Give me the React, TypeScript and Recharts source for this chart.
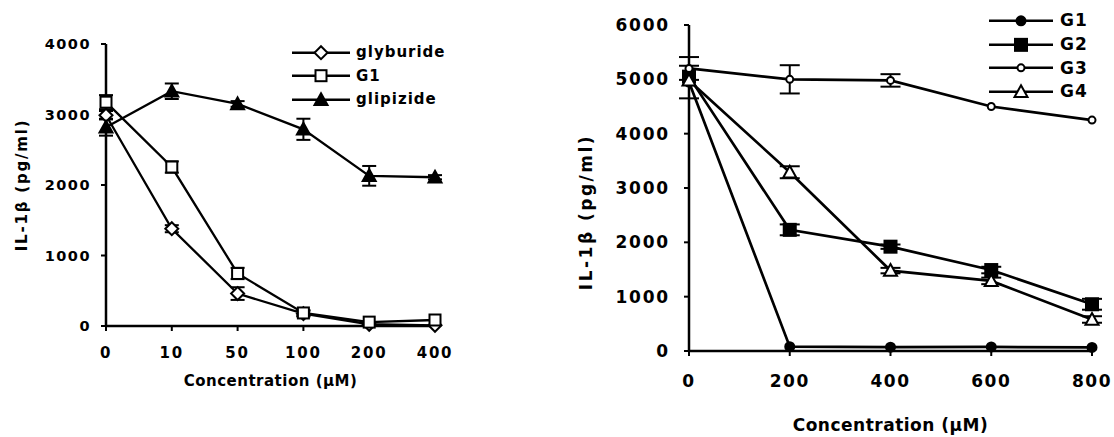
import { LineChart, Line, XAxis, YAxis, ErrorBar, Legend, Label } from "recharts";

const FONT = '"DejaVu Sans", Verdana, sans-serif';

// left panel: glyburide / G1 / glipizide
const leftConc = ["0", "10", "50", "100", "200", "400"];
const leftTicksY = [0, 1000, 2000, 3000, 4000];
const glyburide = [2990, 1380, 460, 175, 25, 10];
const glyburideSd = [60, 50, 90, 40, 0, 0];
const g1Left = [3175, 2255, 745, 185, 55, 85];
const g1LeftSd = [100, 80, 80, 40, 0, 0];
const glipizide = [2820, 3330, 3150, 2790, 2130, 2110];
const glipizideSd = [120, 110, 40, 150, 140, 30];

// right panel: G1..G4
const rightConc = [0, 200, 400, 600, 800];
const rightTicksY = [0, 1000, 2000, 3000, 4000, 5000, 6000];
const g1 = [4950, 80, 70, 75, 65];
const g1Sd = [300, 0, 0, 0, 0];
const g2 = [5050, 2230, 1920, 1490, 860];
const g2Sd = [0, 100, 40, 60, 100];
const g3 = [5200, 5000, 4980, 4500, 4250];
const g3Sd = [210, 260, 115, 0, 0];
const g4 = [4980, 3290, 1480, 1290, 580];
const g4Sd = [0, 110, 50, 60, 60];

const leftData = leftConc.map((c, i) => ({
  conc: c,
  glyburide: glyburide[i], glyburideSd: glyburideSd[i],
  g1: g1Left[i], g1Sd: g1LeftSd[i],
  glipizide: glipizide[i], glipizideSd: glipizideSd[i],
}));

const rightData = rightConc.map((c, i) => ({
  conc: c,
  g1: g1[i], g1Sd: g1Sd[i],
  g2: g2[i], g2Sd: g2Sd[i],
  g3: g3[i], g3Sd: g3Sd[i],
  g4: g4[i], g4Sd: g4Sd[i],
}));

type Shape = "diamond" | "square" | "triangle" | "circle";
interface Series { key: string; name: string; shape: Shape; filled: boolean; size: number }

const leftSeries: Series[] = [
  { key: "glyburide", name: "glyburide", shape: "diamond", filled: false, size: 13 },
  { key: "g1", name: "G1", shape: "square", filled: false, size: 11 },
  { key: "glipizide", name: "glipizide", shape: "triangle", filled: true, size: 13 },
];

const rightSeries: Series[] = [
  { key: "g1", name: "G1", shape: "circle", filled: true, size: 9 },
  { key: "g2", name: "G2", shape: "square", filled: true, size: 12 },
  { key: "g3", name: "G3", shape: "circle", filled: false, size: 9 },
  { key: "g4", name: "G4", shape: "triangle", filled: false, size: 13 },
];

function Marker({ cx, cy, shape, size, filled }: { cx: number; cy: number; shape: Shape; size: number; filled: boolean }) {
  const fill = filled ? "#000" : "#fff";
  const h = size / 2;
  if (shape === "diamond") {
    return <polygon points={`${cx},${cy - h} ${cx + h},${cy} ${cx},${cy + h} ${cx - h},${cy}`} fill={fill} stroke="#000" strokeWidth={2} />;
  }
  if (shape === "square") {
    return <rect x={cx - h} y={cy - h} width={size} height={size} fill={fill} stroke="#000" strokeWidth={2} />;
  }
  if (shape === "triangle") {
    return <polygon points={`${cx},${cy - h} ${cx + h},${cy + h * 0.8} ${cx - h},${cy + h * 0.8}`} fill={fill} stroke="#000" strokeWidth={2} />;
  }
  return <circle cx={cx} cy={cy} r={filled ? h : h - 1} fill={fill} stroke="#000" strokeWidth={2} />;
}

function LegendList({ items, lineLen, rowH, fontSize, gap, spacing }: {
  items: Series[]; lineLen: number; rowH: number; fontSize: number; gap: number; spacing: number;
}) {
  return (
    <div style={{ fontFamily: FONT, fontWeight: 700, fontSize, color: "#000" }}>
      {items.map((s) => (
        <div key={s.key} style={{ display: "flex", alignItems: "center", height: rowH }}>
          <svg width={lineLen} height={rowH} style={{ display: "block" }}>
            <line x1={0} x2={lineLen} y1={rowH / 2} y2={rowH / 2} stroke="#000" strokeWidth={2.5} />
            <Marker cx={lineLen / 2} cy={rowH / 2} shape={s.shape} size={s.size} filled={s.filled} />
          </svg>
          <span style={{ marginLeft: gap, letterSpacing: spacing, lineHeight: 1 }}>{s.name}</span>
        </div>
      ))}
    </div>
  );
}

const axisLine = { stroke: "#000", strokeWidth: 2.5 };
const tickLine = { stroke: "#000", strokeWidth: 2 };

export default function App() {
  return (
    <div style={{ position: "absolute", left: 0, top: 0, width: 1114, height: 437, background: "#fff", fontFamily: FONT }}>
      <div style={{ position: "absolute", left: 0, top: 0 }}>
        <LineChart width={470} height={400} data={leftData} margin={{ top: 44, right: 35, left: 0, bottom: 0 }}>
          <XAxis
            dataKey="conc"
            type="category"
            scale="point"
            height={74}
            axisLine={axisLine}
            tickLine={tickLine}
            tickSize={5}
            tickMargin={16}
            tick={{ fill: "#000", fontSize: 15, fontWeight: 700, fontFamily: FONT, letterSpacing: 1.8 }}
          >
            <Label value="Concentration (μM)" position="insideBottom" offset={14}
              style={{ fontSize: 15, fontWeight: 700, fontFamily: FONT, fill: "#000", letterSpacing: 0.5 }} />
          </XAxis>
          <YAxis
            type="number"
            domain={[0, 4000]}
            ticks={leftTicksY}
            width={106}
            axisLine={axisLine}
            tickLine={tickLine}
            tickSize={5}
            tickMargin={10}
            tick={{ fill: "#000", fontSize: 14.5, fontWeight: 700, fontFamily: FONT, letterSpacing: 1.5 }}
          >
            <Label value="IL-1β (pg/ml)" angle={-90} position="insideLeft" offset={22}
              style={{ textAnchor: "middle", fontSize: 15, fontWeight: 700, fontFamily: FONT, fill: "#000", letterSpacing: 1.8 }} />
          </YAxis>
          <Legend
            layout="vertical"
            align="center"
            verticalAlign="middle"
            wrapperStyle={{ left: 292, top: 41, width: "auto" }}
            content={() => <LegendList items={leftSeries} lineLen={58} rowH={23.4} fontSize={15} gap={6} spacing={1} />}
          />
          {leftSeries.map((s) => (
            <Line
              key={s.key}
              dataKey={s.key}
              name={s.name}
              type="linear"
              stroke="#000"
              strokeWidth={2.3}
              isAnimationActive={false}
              dot={(p: any) => <Marker key={`${s.key}-${p.index}`} cx={p.cx} cy={p.cy} shape={s.shape} size={s.size} filled={s.filled} />}
              activeDot={false}
            >
              <ErrorBar dataKey={`${s.key}Sd`} direction="y" width={7} stroke="#000" strokeWidth={2} isAnimationActive={false} />
            </Line>
          ))}
        </LineChart>
      </div>

      <div style={{ position: "absolute", left: 560, top: 0 }}>
        <LineChart width={554} height={437} data={rightData} margin={{ top: 25, right: 22, left: 0, bottom: 0 }}>
          <XAxis
            dataKey="conc"
            type="number"
            domain={[0, 800]}
            ticks={rightConc}
            height={86}
            axisLine={axisLine}
            tickLine={tickLine}
            tickSize={5}
            tickMargin={19}
            tick={{ fill: "#000", fontSize: 17, fontWeight: 700, fontFamily: FONT, letterSpacing: 1.5 }}
          >
            <Label value="Concentration (μM)" position="insideBottom" offset={6}
              style={{ fontSize: 17, fontWeight: 700, fontFamily: FONT, fill: "#000", letterSpacing: 0.5 }} />
          </XAxis>
          <YAxis
            type="number"
            domain={[0, 6000]}
            ticks={rightTicksY}
            width={129}
            axisLine={axisLine}
            tickLine={tickLine}
            tickSize={5}
            tickMargin={14}
            tick={{ fill: "#000", fontSize: 17, fontWeight: 700, fontFamily: FONT, letterSpacing: 1.8 }}
          >
            <Label value="IL-1β (pg/ml)" angle={-90} position="insideLeft" offset={26} dy={24}
              style={{ textAnchor: "middle", fontSize: 17, fontWeight: 700, fontFamily: FONT, fill: "#000", letterSpacing: 2.5 }} />
          </YAxis>
          <Legend
            layout="vertical"
            align="center"
            verticalAlign="middle"
            wrapperStyle={{ left: 429, top: 9, width: "auto" }}
            content={() => <LegendList items={rightSeries} lineLen={64} rowH={23.7} fontSize={17} gap={7} spacing={1} />}
          />
          {rightSeries.map((s) => (
            <Line
              key={s.key}
              dataKey={s.key}
              name={s.name}
              type="linear"
              stroke="#000"
              strokeWidth={2.7}
              isAnimationActive={false}
              dot={(p: any) => <Marker key={`${s.key}-${p.index}`} cx={p.cx} cy={p.cy} shape={s.shape} size={s.size} filled={s.filled} />}
              activeDot={false}
            >
              <ErrorBar dataKey={`${s.key}Sd`} direction="y" width={10} stroke="#000" strokeWidth={2} isAnimationActive={false} />
            </Line>
          ))}
        </LineChart>
      </div>
    </div>
  );
}
